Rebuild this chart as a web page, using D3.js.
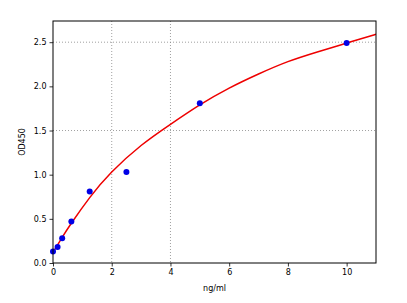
<!DOCTYPE html>
<html>
<head>
<meta charset="utf-8">
<script src="https://cdn.jsdelivr.net/npm/d3@7"></script>
<style>
  body { margin: 0; background: #fff; }
  text { font-family: "DejaVu Sans", sans-serif; }
</style>
</head>
<body>
<div id="chart"></div>
<script>
// standard concentrations (ng/ml) and measured OD450
var stdConc = [0, 0.156, 0.3125, 0.625, 1.25, 2.5, 5, 10];
var stdOD = [0.13, 0.18, 0.28, 0.47, 0.81, 1.03, 1.81, 2.49];

// fitted curve
var fitConc = [0, 0.3125, 0.625, 1.25, 2, 3, 4, 5, 6, 7, 8, 9, 10, 11];
var fitOD = [0.12, 0.29, 0.45, 0.74, 1.03, 1.33, 1.57, 1.79, 1.98, 2.14, 2.28, 2.39, 2.49, 2.59];

var xTicks = [0, 2, 4, 6, 8, 10];
var yTicks = [0, 0.5, 1.0, 1.5, 2.0, 2.5];
var xGrid = [2, 4];
var yGrid = [1.5, 2.5];

var width = 407, height = 303;
var margin = {top: 21, right: 31, bottom: 40, left: 53};

var svg = d3.select("#chart").append("svg")
    .attr("width", width)
    .attr("height", height);

var x = d3.scaleLinear().domain([0, 11]).range([margin.left, width - margin.right]);
var y = d3.scaleLinear().domain([0, 2.74]).range([height - margin.bottom, margin.top]);

// grid
svg.append("g").selectAll("line")
    .data(xGrid).enter().append("line")
    .attr("x1", function (d) { return x(d); })
    .attr("x2", function (d) { return x(d); })
    .attr("y1", margin.top)
    .attr("y2", height - margin.bottom)
    .attr("stroke", "#888")
    .attr("stroke-width", 0.8)
    .attr("stroke-dasharray", "1,2");

svg.append("g").selectAll("line")
    .data(yGrid).enter().append("line")
    .attr("x1", margin.left)
    .attr("x2", width - margin.right)
    .attr("y1", function (d) { return y(d); })
    .attr("y2", function (d) { return y(d); })
    .attr("stroke", "#888")
    .attr("stroke-width", 0.8)
    .attr("stroke-dasharray", "1,2");

// fit line
var fit = fitConc.map(function (c, i) { return [c, fitOD[i]]; });
var line = d3.line()
    .x(function (d) { return x(d[0]); })
    .y(function (d) { return y(d[1]); })
    .curve(d3.curveNatural);

svg.append("clipPath").attr("id", "plotclip")
    .append("rect")
    .attr("x", margin.left).attr("y", margin.top)
    .attr("width", width - margin.left - margin.right)
    .attr("height", height - margin.top - margin.bottom);

var plot = svg.append("g").attr("clip-path", "url(#plotclip)");

plot.append("path")
    .attr("d", line(fit))
    .attr("fill", "none")
    .attr("stroke", "#ee0000")
    .attr("stroke-width", 1.5);

// standards
svg.append("g").selectAll("circle")
    .data(stdConc).enter().append("circle")
    .attr("cx", function (d) { return x(d); })
    .attr("cy", function (d, i) { return y(stdOD[i]); })
    .attr("r", 3)
    .attr("fill", "#0000e6");

// axes
var xAxis = d3.axisBottom(x).tickValues(xTicks).tickSize(3.5).tickPadding(3)
    .tickFormat(d3.format("d"));
var yAxis = d3.axisLeft(y).tickValues(yTicks).tickSize(3.5).tickPadding(3)
    .tickFormat(d3.format(".1f"));

var gx = svg.append("g")
    .attr("transform", "translate(0," + (height - margin.bottom) + ")")
    .call(xAxis);
var gy = svg.append("g")
    .attr("transform", "translate(" + margin.left + ",0)")
    .call(yAxis);

[gx, gy].forEach(function (g) {
    g.select(".domain").remove();
    g.selectAll("text").attr("font-size", 8).attr("fill", "#000")
        .style("font-family", "DejaVu Sans");
    g.selectAll("line").attr("stroke", "#000").attr("stroke-width", 0.8);
});

// frame
svg.append("rect")
    .attr("x", margin.left)
    .attr("y", margin.top)
    .attr("width", width - margin.left - margin.right)
    .attr("height", height - margin.top - margin.bottom)
    .attr("fill", "none")
    .attr("stroke", "#000")
    .attr("stroke-width", 1);

// labels
svg.append("text")
    .attr("x", (margin.left + width - margin.right) / 2)
    .attr("y", 291)
    .attr("text-anchor", "middle")
    .attr("font-size", 8)
    .text("ng/ml");

svg.append("text")
    .attr("transform", "translate(25," + ((margin.top + height - margin.bottom) / 2) + ") rotate(-90)")
    .attr("text-anchor", "middle")
    .attr("font-size", 8)
    .text("OD450");
</script>
</body>
</html>
